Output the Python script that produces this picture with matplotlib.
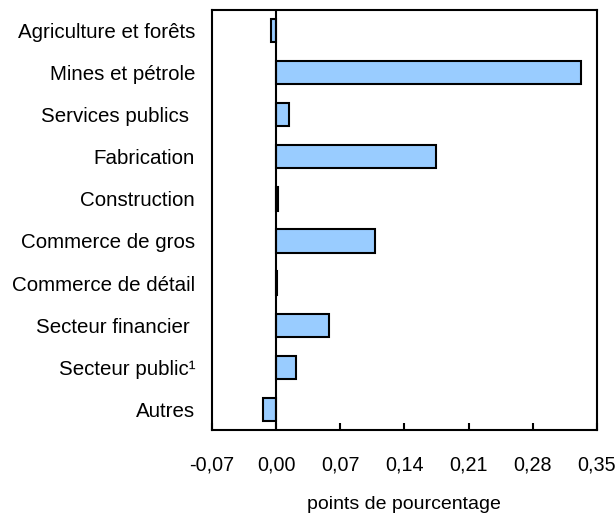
import matplotlib.pyplot as plt

plt.rcParams['font.family'] = ['Liberation Sans', 'DejaVu Sans']

# données
categories = ["Agriculture et forêts", "Mines et pétrole", "Services publics ",
              "Fabrication", "Construction", "Commerce de gros",
              "Commerce de détail", "Secteur financier ", "Secteur public¹",
              "Autres"]
values = [-0.0055, 0.3325, 0.0138, 0.174, 0.002, 0.108, 0.001, 0.058, 0.022, -0.0138]
xticks = [-0.07, 0.00, 0.07, 0.14, 0.21, 0.28, 0.35]
xtick_labels = ["-0,07", "0,00", "0,07", "0,14", "0,21", "0,28", "0,35"]

fig = plt.figure(figsize=(6.16, 5.17), dpi=100)
ax = fig.add_axes([0.344, 0.168, 0.625, 0.813])

y = list(range(len(categories)))
ax.barh(y, values, height=0.55, color='#99ccff', edgecolor='black', linewidth=1.5)
ax.axvline(0, color='black', linewidth=1.5)

ax.set_ylim(len(categories) - 0.5, -0.5)
ax.set_xlim(-0.07, 0.35)
ax.set_yticks(y)
ax.set_yticklabels(categories, fontsize=14.8)
ax.set_xticks(xticks)
ax.set_xticklabels(xtick_labels, fontsize=14.2)
ax.tick_params(axis='y', length=0, pad=12)
ax.tick_params(axis='x', direction='in', length=5, width=1.5, pad=18)
ax.set_xlabel('points de pourcentage', fontsize=14, labelpad=16)

for s in ax.spines.values():
    s.set_linewidth(1.5)

plt.savefig('out.png')
